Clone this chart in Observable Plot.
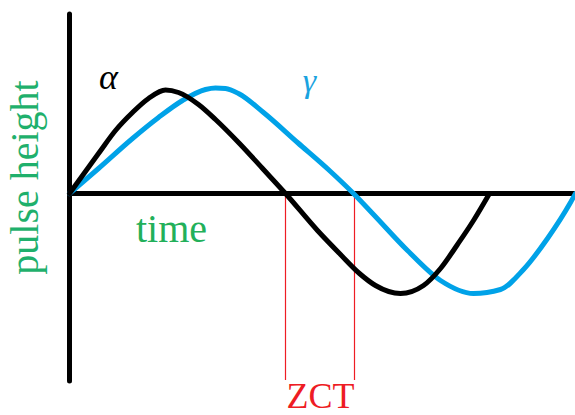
<!DOCTYPE html>
<html>
<head>
<meta charset="utf-8">
<script src="https://cdn.jsdelivr.net/npm/d3@7"></script>
<script src="https://cdn.jsdelivr.net/npm/@observablehq/plot@0.6"></script>
<style>
html,body{margin:0;padding:0;background:#fff;}
#chart svg{display:block;}
#chart svg text{font-family:"Liberation Serif","DejaVu Serif",serif !important;}
#chart svg .it text{font-style:italic;}
</style>
</head>
<body>
<div id="chart"></div>
<script>
// time (arbitrary units) and pulse height (arbitrary units)
const alphaTime   = [0, 29, 46, 63, 79, 96, 109, 129, 146, 170, 194, 216, 248, 271, 290, 306, 331, 354, 371, 388, 404, 420];
const alphaHeight = [0, 40, 63, 81, 95, 103.5, 101, 89, 74, 50, 24, 0, -37, -61, -80, -92, -100, -92, -75, -51, -27, 0];
const gammaTime   = [0, 29, 63, 89, 113, 136, 146, 156, 169, 194, 228, 261, 284, 304, 338, 371, 404, 431, 454, 478, 501, 506];
const gammaHeight = [0, 25, 55, 76, 93, 104, 105.5, 105, 100, 81, 51, 22, 0, -21, -57, -87, -100, -96, -76, -45, -9, 0];
const zctTimes = [216, 285];
const greekLabels = [
  {t: 39, h: 105, text: "α", color: "#000000", size: 36},
  {t: 240, h: 102, text: "γ", color: "#1aa3e0", size: 34}
];
const plainLabels = [
  {t: 102, h: -48, text: "time", color: "#22b05a", size: 40},
  {t: 251, h: -214, text: "ZCT", color: "#ee1c24", size: 36}
];
const yLabel = "pulse height";

const alpha = alphaTime.map((t, i) => ({t, h: alphaHeight[i]}));
const gamma = gammaTime.map((t, i) => ({t, h: gammaHeight[i]}));
const serif = "Liberation Serif";

const plot = Plot.plot({
  width: 575,
  height: 415,
  margin: 0,
  x: {domain: [-69, 506], axis: null},
  y: {domain: [-222, 193], axis: null},
  style: {background: "#fff"},
  marks: [
    Plot.ruleX(zctTimes, {y1: 0, y2: -187, stroke: "#ee1c24", strokeWidth: 1.2}),
    Plot.ruleY([0], {x1: 0, x2: 506, stroke: "#000", strokeWidth: 5}),
    Plot.ruleX([0], {y1: 179, y2: -188, stroke: "#000", strokeWidth: 5, strokeLinecap: "round"}),
    Plot.line(gamma, {x: "t", y: "h", stroke: "#00a2e8", strokeWidth: 5, curve: "monotone-x"}),
    Plot.line(alpha, {x: "t", y: "h", stroke: "#000", strokeWidth: 5, curve: "monotone-x"}),
    Plot.text(greekLabels, {x: "t", y: "h", text: "text", fill: "color", fontSize: "size",
      fontFamily: serif, fontStyle: "italic", textAnchor: "middle", lineAnchor: "bottom",
      render: (index, scales, values, dims, ctx, next) => {
        const g = next(index, scales, values, dims, ctx);
        g.classList.add("it");
        return g;
      }}),
    Plot.text(plainLabels, {x: "t", y: "h", text: "text", fill: "color", fontSize: "size",
      fontFamily: serif, textAnchor: "middle", lineAnchor: "bottom"}),
    Plot.text([yLabel], {x: -32, y: 16, text: d => d, rotate: -90, fill: "#1fb06c",
      fontFamily: serif, fontSize: 40, textAnchor: "middle", lineAnchor: "bottom"})
  ]
});
document.getElementById("chart").appendChild(plot);
</script>
</body>
</html>
